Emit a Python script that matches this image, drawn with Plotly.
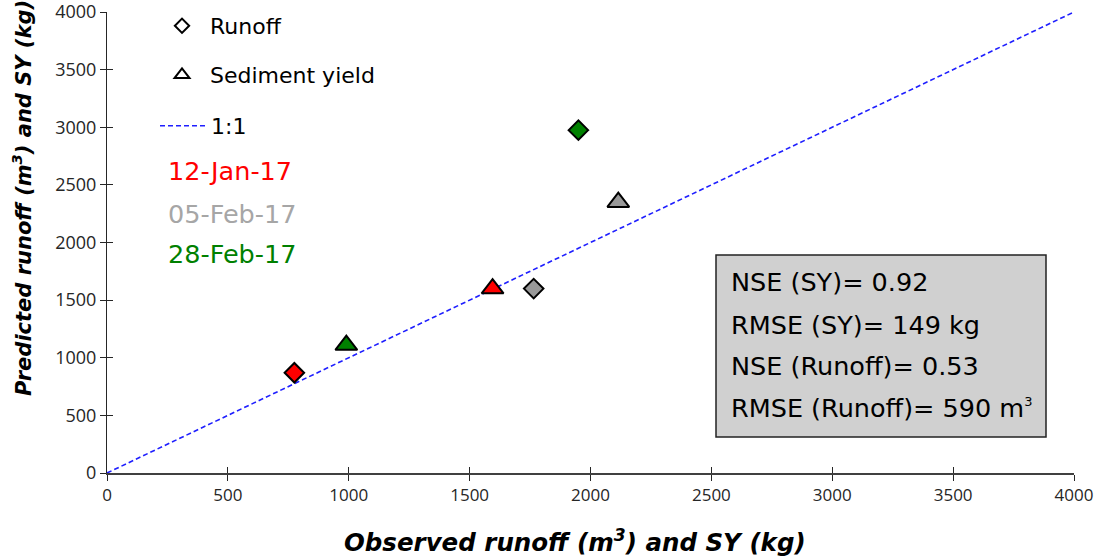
import plotly.graph_objects as go

# Event dates and their colours
dates = ["12-Jan-17", "05-Feb-17", "28-Feb-17"]
date_colors = ["#ff0000", "#999999", "#008000"]
date_text_colors = ["#ff0000", "#a6a6a6", "#008000"]

# Observed vs predicted runoff (m3), per event
runoff_obs = [775, 1765, 1950]
runoff_pred = [870, 1600, 2975]

# Observed vs predicted sediment yield (kg), per event
sy_obs = [1595, 2115, 990]
sy_pred = [1600, 2350, 1110]

# Goodness-of-fit statistics
stats = ["NSE (SY)= 0.92", "RMSE (SY)= 149 kg", "NSE (Runoff)= 0.53",
         "RMSE (Runoff)= 590 m<sup><span style='font-size:13px'>3</span></sup>"]

axis_range = [0, 4000]
tick_vals = [0, 500, 1000, 1500, 2000, 2500, 3000, 3500, 4000]

W, H = 1097, 558
L, R, T, B = 107, 1074, 12, 473


def fx(xp):
    return (xp - L) / (R - L)


def fy(yp):
    return (B - yp) / (B - T)


TEXT_FONT = "DejaVu Sans"
TICK_FONT = "Open Sans"

fig = go.Figure()

# 1:1 reference line
fig.add_trace(go.Scatter(
    x=axis_range, y=axis_range, mode="lines",
    line=dict(color="#1f1fff", width=1.6, dash="5px,3px"),
    name="1:1", legend="legend3", showlegend=True, hoverinfo="skip"))

# data points, one per event
for i in range(len(dates)):
    fig.add_trace(go.Scatter(
        x=[runoff_obs[i]], y=[runoff_pred[i]], mode="markers",
        marker=dict(symbol="diamond", size=15, color=date_colors[i],
                    line=dict(color="black", width=2)),
        name=f"Runoff {dates[i]}", showlegend=False))
    fig.add_trace(go.Scatter(
        x=[sy_obs[i]], y=[sy_pred[i]], mode="markers",
        marker=dict(symbol="triangle-up", size=19, color=date_colors[i],
                    line=dict(color="black", width=2)),
        name=f"SY {dates[i]}", showlegend=False))

# legend glyphs for the two marker types
fig.add_trace(go.Scatter(
    x=[None], y=[None], mode="markers", name="Runoff", legend="legend",
    marker=dict(symbol="diamond-open", size=11, color="black",
                line=dict(width=2))))
fig.add_trace(go.Scatter(
    x=[None], y=[None], mode="markers", name="Sediment yield",
    legend="legend2",
    marker=dict(symbol="triangle-up-open", size=13, color="black",
                line=dict(width=2))))

legend_common = dict(
    xanchor="left", yanchor="middle", bgcolor="rgba(0,0,0,0)",
    borderwidth=0, itemwidth=46,
    font=dict(family=TEXT_FONT, size=22, color="black"),
    itemclick=False, itemdoubleclick=False)

annotations = []
# event date labels
for txt, col, yp in zip(dates, date_text_colors, [171, 214, 254]):
    annotations.append(dict(
        xref="paper", yref="paper", x=fx(166), y=fy(yp), text=txt,
        showarrow=False, xanchor="left", yanchor="middle",
        font=dict(family=TEXT_FONT, size=25.5, color=col)))

# statistics box text
for txt, yp in zip(stats, [282, 325, 366, 408]):
    annotations.append(dict(
        xref="paper", yref="paper", x=fx(729), y=fy(yp), text=txt,
        showarrow=False, xanchor="left", yanchor="middle",
        font=dict(family=TEXT_FONT, size=25.5, color="black")))

# axis titles
annotations.append(dict(
    xref="paper", yref="paper", x=fx(575), y=fy(541),
    text="Observed runoff (m<sup>3</sup>) and SY (kg)", showarrow=False,
    xanchor="center", yanchor="middle",
    font=dict(family=TEXT_FONT, size=24.5, color="black", weight="bold",
              style="italic")))
annotations.append(dict(
    xref="paper", yref="paper", x=fx(22), y=fy(198),
    text="Predicted runoff (m<sup>3</sup>) and SY (kg)", showarrow=False,
    xanchor="center", yanchor="middle", textangle=-90,
    font=dict(family=TEXT_FONT, size=21, color="black", weight="bold",
              style="italic")))

shapes = [dict(
    type="rect", xref="paper", yref="paper",
    x0=fx(716), x1=fx(1046), y0=fy(437), y1=fy(255),
    fillcolor="#d0d0d0", line=dict(color="#222222", width=1.5),
    layer="below")]

ytick_font = dict(family=TICK_FONT, size=18, color="#262626")
xtick_font = dict(family=TICK_FONT, size=17, color="#262626")

fig.update_layout(
    width=W, height=H,
    margin=dict(l=L, r=W - R, t=T, b=H - B, autoexpand=False),
    plot_bgcolor="white", paper_bgcolor="white",
    showlegend=True,
    legend=dict(x=fx(154), y=fy(26), **legend_common),
    legend2=dict(x=fx(154), y=fy(75), **legend_common),
    legend3=dict(x=fx(155), y=fy(126), **legend_common),
    xaxis=dict(range=axis_range, tickvals=tick_vals, showgrid=False,
               zeroline=False, showline=True, linecolor="#404040",
               linewidth=2, ticks="outside", ticklen=6, tickcolor="#262626",
               tickwidth=1, tickfont=xtick_font, fixedrange=True,
               automargin=False),
    yaxis=dict(range=axis_range, tickvals=tick_vals, showgrid=False,
               zeroline=False, showline=True, linecolor="#262626",
               linewidth=1, ticks="outside", ticklen=6, tickcolor="#262626",
               tickwidth=1, tickfont=ytick_font, fixedrange=True,
               automargin=False, ticklabeloverflow="allow"),
    # overlay axes give the tick marks their inward half
    xaxis2=dict(range=axis_range, tickvals=tick_vals, overlaying="x",
                anchor="y2", side="bottom", showgrid=False, zeroline=False,
                showline=False, ticks="inside", ticklen=6, tickwidth=1,
                tickcolor="#262626", showticklabels=False, fixedrange=True,
                automargin=False),
    yaxis2=dict(range=axis_range, tickvals=tick_vals, overlaying="y",
                anchor="x2", side="left", showgrid=False, zeroline=False,
                showline=False, ticks="inside", ticklen=6, tickwidth=1,
                tickcolor="#262626", showticklabels=False, fixedrange=True,
                automargin=False),
    annotations=annotations,
    shapes=shapes,
)

# anchor trace so the overlay axes are drawn
fig.add_trace(go.Scatter(x=[0], y=[0], xaxis="x2", yaxis="y2", mode="markers",
                         marker=dict(opacity=0), showlegend=False,
                         hoverinfo="skip"))

fig.write_html("out.html")
